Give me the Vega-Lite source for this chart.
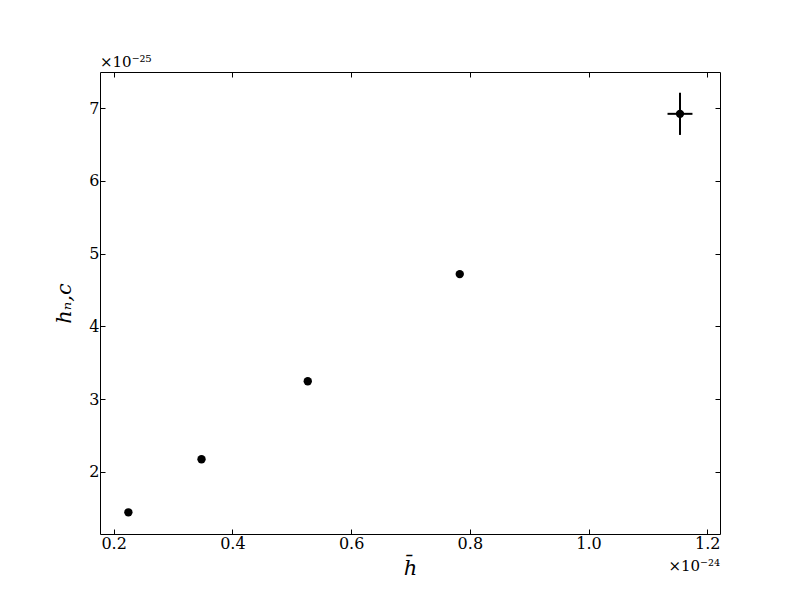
{
  "$schema": "https://vega.github.io/schema/vega-lite/v6.json",
  "width": 620,
  "height": 462,
  "autosize": "none",
  "padding": {"left": 100, "top": 72, "right": 80, "bottom": 66},
  "background": "white",
  "config": {
    "view": {"stroke": "black", "strokeWidth": 1},
    "font": "DejaVu Serif",
    "axis": {
      "grid": false,
      "domain": false,
      "tickColor": "black",
      "tickSize": -5,
      "tickWidth": 1,
      "labelFont": "DejaVu Serif",
      "labelFontSize": 16,
      "labelColor": "black",
      "titleFont": "DejaVu Serif",
      "titleColor": "black",
      "titleFontWeight": "normal"
    }
  },
  "title": {
    "text": "×10⁻²⁵",
    "anchor": "start",
    "frame": "group",
    "font": "DejaVu Serif",
    "fontSize": 15,
    "fontWeight": "normal",
    "color": "black",
    "offset": 2
  },
  "datasets": {
    "pts": [
      {"hbar": 0.2248, "hnc": 1.443},
      {"hbar": 0.348, "hnc": 2.172},
      {"hbar": 0.527, "hnc": 3.245},
      {"hbar": 0.783, "hnc": 4.717},
      {"hbar": 1.154, "hnc": 6.92}
    ],
    "err": [
      {"hbar": 1.154, "hnc": 6.92, "xlo": 1.133, "xhi": 1.175, "ylo": 6.63, "yhi": 7.21}
    ],
    "note": [
      {"x": 1.2214, "y": 1.145, "label": "×10⁻²⁴"}
    ]
  },
  "layer": [
    {
      "data": {"name": "pts"},
      "mark": {"type": "point", "filled": true, "color": "black", "opacity": 1, "size": 70},
      "encoding": {
        "x": {
          "field": "hbar", "type": "quantitative",
          "scale": {"domain": [0.177, 1.2214], "nice": false, "zero": false},
          "axis": {"orient": "bottom", "values": [0.2, 0.4, 0.6, 0.8, 1.0, 1.2], "format": ".1f", "labelPadding": 6, "title": "h̄", "titleFontSize": 21, "titleFontStyle": "italic", "titlePadding": 6}
        },
        "y": {
          "field": "hnc", "type": "quantitative",
          "scale": {"domain": [1.145, 7.495], "nice": false, "zero": false},
          "axis": {"orient": "left", "values": [2, 3, 4, 5, 6, 7], "format": "d", "labelPadding": 6, "title": "hₙ,c", "titleFontSize": 21, "titleFontStyle": "italic", "titlePadding": 14}
        }
      }
    },
    {
      "data": {"name": "err"},
      "mark": {"type": "rule", "color": "black", "strokeWidth": 2},
      "encoding": {
        "x": {"field": "xlo", "type": "quantitative", "axis": {"orient": "top", "values": [0.2, 0.4, 0.6, 0.8, 1.0, 1.2], "labels": false, "title": null}},
        "x2": {"field": "xhi"},
        "y": {"field": "hnc", "type": "quantitative", "axis": {"orient": "right", "values": [2, 3, 4, 5, 6, 7], "labels": false, "title": null}}
      }
    },
    {
      "data": {"name": "err"},
      "mark": {"type": "rule", "color": "black", "strokeWidth": 2},
      "encoding": {
        "x": {"field": "hbar", "type": "quantitative", "axis": null},
        "y": {"field": "ylo", "type": "quantitative", "axis": null},
        "y2": {"field": "yhi"}
      }
    },
    {
      "data": {"name": "note"},
      "mark": {"type": "text", "align": "right", "baseline": "middle", "dy": 32, "font": "DejaVu Serif", "fontSize": 15, "color": "black"},
      "encoding": {
        "x": {"field": "x", "type": "quantitative", "axis": null},
        "y": {"field": "y", "type": "quantitative", "axis": null},
        "text": {"field": "label"}
      }
    }
  ],
  "resolve": {"axis": {"x": "independent", "y": "independent"}}
}
